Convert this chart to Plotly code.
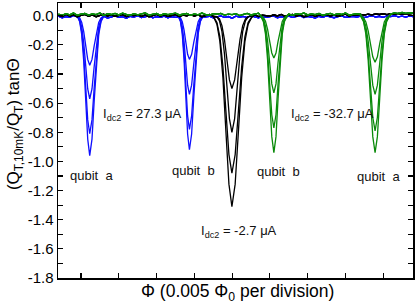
import plotly.graph_objects as go

# ---------------- data ----------------
noise_x = [0.4, 0.5, 0.6, 0.7, 0.8, 0.9, 1.0, 1.1, 1.2, 1.3, 1.4, 1.5, 1.6, 1.7, 1.8, 1.9,
           2.0, 2.1, 2.2, 2.3, 2.4, 2.5, 2.6, 2.7, 2.8, 2.9, 3.0, 3.1, 3.2, 3.3, 3.4, 3.5,
           3.6, 3.7, 3.8, 3.9, 4.0, 4.1, 4.2, 4.3, 4.4, 4.5, 4.6, 4.7, 4.8, 4.9, 5.0, 5.1,
           5.2, 5.3, 5.4, 5.5, 5.6, 5.7, 5.8, 5.9, 6.0, 6.1, 6.2, 6.3, 6.4, 6.5, 6.6, 6.7,
           6.8, 6.9, 7.0, 7.1, 7.2, 7.3, 7.4, 7.5, 7.6, 7.7, 7.8, 7.9, 8.0, 8.1, 8.2, 8.3,
           8.4, 8.5, 8.6, 8.7, 8.8, 8.9, 9.0, 9.1, 9.2, 9.3, 9.4, 9.5, 9.6, 9.7, 9.8]

blue_noise = [-0.004, -0.015, -0.006, -0.012, 0.002, -0.010, -0.018, -0.005, -0.011, 0.000,
              -0.014, -0.007, -0.003, -0.016, -0.009, -0.001, -0.012, -0.006, -0.017, -0.004,
              -0.010, 0.001, -0.013, -0.008, -0.002, -0.015, -0.006, -0.011, -0.003, -0.014,
              -0.007, -0.012, 0.000, -0.009, -0.016, -0.005, -0.010, -0.002, -0.013, -0.008,
              -0.004, -0.015, -0.007, -0.001, -0.012, -0.006, -0.017, -0.003, -0.010, -0.005,
              -0.013, 0.001, -0.009, -0.014, -0.004, -0.011, -0.007, -0.002, -0.015, -0.006,
              -0.010, -0.003, -0.012, -0.008, 0.000, -0.013, -0.005, -0.009, -0.016, -0.004,
              -0.011, -0.002, -0.008, -0.014, -0.006, -0.001, -0.012, -0.007, -0.004, -0.010,
              -0.003, -0.013, -0.006, 0.001, -0.009, -0.004, -0.011, -0.002, -0.007, 0.000,
              -0.008, -0.003, -0.010, -0.001, -0.006]

black_noise = [0.004, -0.006, 0.008, -0.002, 0.006, -0.008, 0.002, 0.009, -0.004, 0.005,
               -0.007, 0.003, 0.010, -0.003, 0.006, -0.005, 0.001, 0.008, -0.006, 0.004,
               0.000, 0.007, -0.004, 0.005, -0.008, 0.003, 0.009, -0.002, 0.006, -0.005,
               0.002, 0.008, -0.006, 0.004, -0.001, 0.007, -0.003, 0.005, -0.007, 0.002,
               0.009, -0.004, 0.006, -0.002, 0.003, -0.006, 0.008, 0.000, 0.005, -0.005,
               0.003, -0.003, 0.007, -0.006, 0.004, 0.001, -0.004, 0.006, -0.002, 0.008,
               -0.005, 0.003, 0.009, -0.003, 0.005, -0.007, 0.002, 0.007, -0.004, 0.004,
               0.000, 0.008, -0.003, 0.006, -0.005, 0.003, 0.010, -0.002, 0.006, 0.002,
               0.009, 0.004, 0.011, 0.006, 0.012, 0.008, 0.013, 0.007, 0.014, 0.009,
               0.015, 0.010, 0.014, 0.012, 0.016]

green_noise = [0.010, 0.002, 0.014, 0.006, 0.018, 0.003, 0.011, 0.016, 0.004, 0.012,
               0.007, 0.019, 0.001, 0.013, 0.008, 0.015, 0.005, 0.017, 0.009, 0.003,
               0.014, 0.006, 0.012, 0.018, 0.004, 0.010, 0.016, 0.002, 0.013, 0.007,
               0.011, 0.017, 0.005, 0.009, 0.015, 0.003, 0.012, 0.006, 0.018, 0.008,
               0.002, 0.014, 0.010, 0.016, 0.004, 0.011, 0.007, 0.013, 0.001, 0.009,
               0.015, 0.005, 0.012, 0.017, 0.003, 0.010, 0.006, 0.014, 0.008, 0.016,
               0.004, 0.011, 0.002, 0.013, 0.009, 0.018, 0.005, 0.012, 0.007, 0.015,
               0.003, 0.010, 0.016, 0.006, 0.013, 0.008, 0.019, 0.004, 0.011, 0.014,
               0.009, 0.017, 0.012, 0.020, 0.010, 0.018, 0.013, 0.021, 0.011, 0.019,
               0.014, 0.022, 0.016, 0.020, 0.018]

# dips: x positions (divisions) and four traces each
blue_a_x = [0.912, 0.965, 1.018, 1.071, 1.124, 1.177, 1.23, 1.29, 1.349, 1.409, 1.468, 1.528, 1.587]
blue_a_y = [
    [-0.004, -0.015, -0.046, -0.110, -0.206, -0.300, -0.34, -0.300, -0.206, -0.110, -0.046, -0.015, -0.004],
    [-0.006, -0.025, -0.077, -0.185, -0.346, -0.503, -0.57, -0.503, -0.346, -0.185, -0.077, -0.025, -0.006],
    [-0.009, -0.036, -0.110, -0.263, -0.491, -0.715, -0.81, -0.715, -0.491, -0.263, -0.110, -0.036, -0.009],
    [-0.011, -0.042, -0.130, -0.312, -0.582, -0.847, -0.96, -0.847, -0.582, -0.312, -0.130, -0.042, -0.011],
]
blue_b_x = [3.585, 3.632, 3.68, 3.727, 3.775, 3.822, 3.87, 3.928, 3.986, 4.044, 4.102, 4.16, 4.218]
blue_b_y = [
    [-0.003, -0.013, -0.041, -0.097, -0.182, -0.265, -0.30, -0.265, -0.182, -0.097, -0.041, -0.013, -0.003],
    [-0.006, -0.024, -0.073, -0.175, -0.328, -0.477, -0.54, -0.477, -0.328, -0.175, -0.073, -0.024, -0.006],
    [-0.009, -0.034, -0.106, -0.253, -0.473, -0.688, -0.78, -0.688, -0.473, -0.253, -0.106, -0.034, -0.009],
    [-0.010, -0.040, -0.125, -0.299, -0.558, -0.812, -0.92, -0.812, -0.558, -0.299, -0.125, -0.040, -0.010],
]
black_in_x = [4.599, 4.665, 4.731, 4.797, 4.863, 4.929, 4.995, 5.067, 5.138, 5.21, 5.281, 5.353, 5.424]
black_out_x = [4.518, 4.598, 4.677, 4.757, 4.836, 4.916, 4.995, 5.081, 5.167, 5.253, 5.339, 5.425, 5.511]
black_y = [
    [-0.006, -0.022, -0.068, -0.162, -0.303, -0.441, -0.50, -0.441, -0.303, -0.162, -0.068, -0.022, -0.006],
    [-0.009, -0.035, -0.108, -0.260, -0.485, -0.706, -0.80, -0.706, -0.485, -0.260, -0.108, -0.035, -0.009],
    [-0.012, -0.047, -0.146, -0.351, -0.655, -0.953, -1.08, -0.953, -0.655, -0.351, -0.146, -0.047, -0.012],
    [-0.015, -0.058, -0.177, -0.425, -0.795, -1.156, -1.31, -1.156, -0.795, -0.425, -0.177, -0.058, -0.015],
]
green_b_x = [5.773, 5.829, 5.884, 5.94, 5.995, 6.051, 6.106, 6.162, 6.217, 6.273, 6.328, 6.384, 6.439]
green_b_y = [
    [-0.003, -0.013, -0.039, -0.094, -0.176, -0.256, -0.29, -0.256, -0.176, -0.094, -0.039, -0.013, -0.003],
    [-0.006, -0.023, -0.072, -0.172, -0.321, -0.468, -0.53, -0.468, -0.321, -0.172, -0.072, -0.023, -0.006],
    [-0.009, -0.034, -0.104, -0.250, -0.467, -0.680, -0.77, -0.680, -0.467, -0.250, -0.104, -0.034, -0.009],
    [-0.010, -0.041, -0.127, -0.305, -0.570, -0.830, -0.94, -0.830, -0.570, -0.305, -0.127, -0.041, -0.010],
]
green_a_x = [8.42, 8.481, 8.542, 8.603, 8.664, 8.725, 8.786, 8.847, 8.908, 8.969, 9.03, 9.091, 9.152]
green_a_y = [
    [-0.004, -0.014, -0.043, -0.104, -0.194, -0.282, -0.32, -0.282, -0.194, -0.104, -0.043, -0.014, -0.004],
    [-0.006, -0.024, -0.073, -0.175, -0.328, -0.477, -0.54, -0.477, -0.328, -0.175, -0.073, -0.024, -0.006],
    [-0.009, -0.035, -0.107, -0.257, -0.479, -0.697, -0.79, -0.697, -0.479, -0.257, -0.107, -0.035, -0.009],
    [-0.010, -0.041, -0.127, -0.305, -0.570, -0.830, -0.94, -0.830, -0.570, -0.305, -0.127, -0.041, -0.010],
]

y_tick_vals = [0.0, -0.2, -0.4, -0.6, -0.8, -1.0, -1.2, -1.4, -1.6, -1.8]
y_tick_text = ["0.0", "-0.2", "-0.4", "-0.6", "-0.8", "-1.0", "-1.2", "-1.4", "-1.6", "-1.8"]
x_tick_vals = [1, 2, 3, 4, 5, 6, 7, 8, 9]

BLUE = "#0f0fff"
BLACK = "#000000"
GREEN = "#0a8a0a"


def build(noise, dips):
    pts = []
    for xv, yv in zip(noise_x, noise):
        if all(not (dx[0] <= xv <= dx[-1]) for dx, _ in dips):
            pts.append((xv, yv))
    for dx, dy in dips:
        pts.extend(zip(dx, dy))
    pts.sort()
    return [p[0] for p in pts], [p[1] for p in pts]


fig = go.Figure()

for i in range(4):
    x, y = build(blue_noise, [(blue_a_x, blue_a_y[i]), (blue_b_x, blue_b_y[i])])
    fig.add_trace(go.Scatter(x=x, y=y, mode="lines", line=dict(color=BLUE, width=1.3)))
for i in range(4):
    bx = black_in_x if i < 2 else black_out_x
    x, y = build(black_noise, [(bx, black_y[i])])
    fig.add_trace(go.Scatter(x=x, y=y, mode="lines", line=dict(color=BLACK, width=1.3)))
for i in range(4):
    x, y = build(green_noise, [(green_b_x, green_b_y[i]), (green_a_x, green_a_y[i])])
    fig.add_trace(go.Scatter(x=x, y=y, mode="lines", line=dict(color=GREEN, width=1.3)))

FONT = "Liberation Sans, Arial, sans-serif"
ann_font = dict(family=FONT, size=13, color="#111")

annotations = [
    dict(x=1.53, y=-0.676, text="I<sub>dc2</sub> = 27.3 μA", xanchor="left", yanchor="middle"),
    dict(x=1.29, y=-1.096, text="qubit\u00a0\u00a0a", xanchor="center", yanchor="middle"),
    dict(x=3.976, y=-1.065, text="qubit\u00a0\u00a0b", xanchor="center", yanchor="middle"),
    dict(x=4.12, y=-1.48, text="I<sub>dc2</sub> = -2.7 μA", xanchor="left", yanchor="middle"),
    dict(x=6.24, y=-1.069, text="qubit\u00a0\u00a0b", xanchor="center", yanchor="middle"),
    dict(x=6.50, y=-0.679, text="I<sub>dc2</sub> = -32.7 μA", xanchor="left", yanchor="middle"),
    dict(x=8.88, y=-1.103, text="qubit\u00a0\u00a0a", xanchor="center", yanchor="middle"),
]
for a in annotations:
    a.update(xref="x", yref="y", showarrow=False, font=ann_font)

annotations.append(dict(xref="paper", yref="paper", x=0.5056, y=-0.054,
                        text="Φ (0.005 Φ<sub>0</sub> per division)", showarrow=False,
                        xanchor="center", yanchor="middle",
                        font=dict(family=FONT, size=17.5, color="#000")))
annotations.append(dict(xref="paper", yref="paper", x=-0.121, y=0.56,
                        text="(Q<sub>T,10mK</sub>/Q<sub>T</sub>) tanΘ", showarrow=False,
                        textangle=-90, xanchor="center", yanchor="middle",
                        font=dict(family=FONT, size=17, color="#000")))

fig.update_layout(
    template="none",
    width=415, height=307,
    margin=dict(l=58, r=2, t=3, b=29, autoexpand=False),
    paper_bgcolor="white", plot_bgcolor="white",
    showlegend=False,
    hovermode=False,
    font=dict(family=FONT, size=15, color="#000"),
    annotations=annotations,
)
fig.update_xaxes(range=[0.39, 9.79], showgrid=False, zeroline=False, automargin=False,
                 showline=True, linecolor="black", linewidth=1.5, mirror="ticks",
                 ticks="inside", ticklen=5, tickwidth=1.2, tickcolor="black",
                 tickvals=x_tick_vals, showticklabels=False)
fig.update_yaxes(range=[-1.8, 0.087], showgrid=False, zeroline=False, automargin=False,
                 showline=True, linecolor="black", linewidth=1.5, mirror="ticks",
                 ticks="inside", ticklen=5, tickwidth=1.2, tickcolor="black",
                 tickvals=y_tick_vals, ticktext=y_tick_text,
                 tickfont=dict(family=FONT, size=15, color="#000"),
                 minor=dict(dtick=0.1, ticks="inside", ticklen=5, tickwidth=1.2, tickcolor="black"))

fig.write_html("out.html", config={"displayModeBar": False, "staticPlot": True},
               post_script="document.body.style.margin='0';document.body.style.overflow='hidden';")
